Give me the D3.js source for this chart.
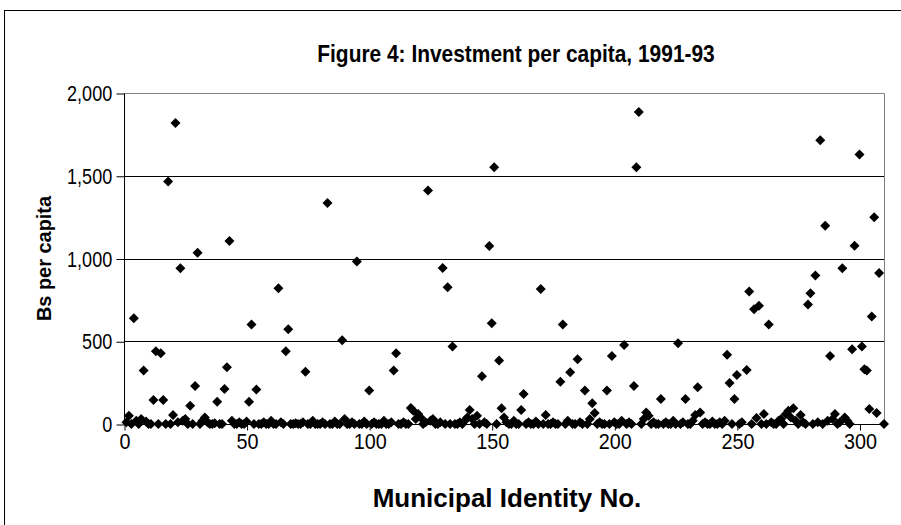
<!DOCTYPE html>
<html>
<head>
<meta charset="utf-8">
<style>
  body { margin: 0; background: #fff; }
  svg { display: block; font-family: 'Liberation Sans', Arial, sans-serif; }
  .title { font-size: 23px; font-weight: bold; }
  .axisTitle { font-weight: bold; }
  .tick text { font-size: 22px; font-family: 'Liberation Sans', Arial, sans-serif; fill: #000; }
</style>
</head>
<body>
<div id="chart"></div>
<script src="https://d3js.org/d3.v7.min.js"></script>
<script>
// investment per capita (Bs) for municipalities 1..310, null = no point
const perCapita = [
  10, 50, 0, 639, 20, 0, 30, 323, 15, 0,
  0, 145, 440, 0, 427, 145, 0, 1466, 0, 54,
  1818, 10, 941, 20, 30, 0, 111, 0, 230, 1034,
  0, 20, 40, 10, 0, 0, 5, 135, 0, 0,
  212, 343, 1105, 20, 0, 0, 10, 0, 0, 15,
  135, 601, 0, 208, 0, 0, 10, 0, 0, 20,
  0, 0, 820, 10, 0, 440, 573, 0, 0, 5,
  0, 0, 10, 315, 0, 0, 20, 0, 0, 0,
  10, 0, 1335, 0, 0, 15, 0, 0, 506, 30,
  0, 0, 10, 0, 982, 0, 0, 15, 0, 202,
  0, 10, 0, 0, 0, 20, 0, 0, 10, 323,
  427, 0, 0, 10, 0, 0, 97, 80, 30, 60,
  40, 0, 10, 1411, 20, 30, 0, 0, 10, 943,
  0, 827, 0, 468, 0, 0, 10, 0, 20, 40,
  85, 30, 0, 50, 0, 288, 10, 0, 1075, 609,
  1552, 0, 383, 95, 40, 10, 0, 0, 20, 0,
  0, 85, 181, 0, 10, 0, 0, 15, 0, 816,
  0, 54, 0, 0, 10, 0, 0, 256, 601, 0,
  20, 312, 0, 0, 391, 10, 0, 202, 0, 30,
  125, 67, 0, 10, 0, 0, 202, 0, 411, 10,
  0, 0, 20, 478, 0, 10, 0, 230, 1552, 1885,
  0, 30, 70, 50, 0, 10, 0, 0, 151, 0,
  10, 0, 0, 20, 0, 488, 0, 10, 151, 0,
  0, 20, 54, 222, 70, 0, 10, 0, 0, 15,
  0, 0, 10, 0, 20, 419, 248, 0, 151, 296,
  0, 10, null, 327, 800, 0, 694, 36, 714, 0,
  60, 0, 601, 10, 0, 0, 20, 30, 0, 60,
  80, 40, 95, 20, 0, 54, 10, 0, 722, 790,
  0, 897, 10, 1714, 0, 1198, 20, 411, 30, 60,
  0, 10, 941, 40, 20, 0, 452, 1077, null, 1629,
  468, 331, 323, 91, 649, 1250, 67, 913, null, 0
];
const municipalIds = perCapita.map((v, i) => i + 1);
const yTicks = [0, 500, 1000, 1500, 2000];
const xTicks = [0, 50, 100, 150, 200, 250, 300];

const W = 901, H = 525;
const plot = {left: 124, right: 884, top: 93, bottom: 424};

const svg = d3.select("#chart").append("svg")
  .attr("width", W).attr("height", H);

// chart border (cut off at right and bottom like the original)
svg.append("rect")
  .attr("x", 4.5).attr("y", 10.5)
  .attr("width", 940).attr("height", 560)
  .attr("fill", "#fff").attr("stroke", "#000");

const x = d3.scaleLinear().domain([0, 310]).range([plot.left, plot.right]);
const y = d3.scaleLinear().domain([0, 2000]).range([plot.bottom, plot.top]);

// gridlines
svg.append("g")
  .selectAll("line")
  .data(yTicks.filter(d => d > 0 && d < 2000))
  .join("line")
    .attr("x1", plot.left).attr("x2", plot.right)
    .attr("y1", d => Math.round(y(d)) + 0.5).attr("y2", d => Math.round(y(d)) + 0.5)
    .attr("stroke", "#000");

// plot area border (top + right)
svg.append("path")
  .attr("d", `M${plot.left},${Math.round(y(2000)) + 0.5}H${plot.right + 0.5}V${plot.bottom}`)
  .attr("fill", "none").attr("stroke", "#808080");

// y axis
const yAxis = svg.append("g")
  .attr("transform", `translate(${plot.left + 0.5},0.5)`)
  .call(d3.axisLeft(y).tickValues(yTicks).tickFormat(d3.format(",")).tickSize(8).tickPadding(7));
yAxis.select(".domain").attr("stroke", "#000").attr("d", `M0,${y(2000)}V${y(0)}`);
yAxis.selectAll(".tick line").attr("stroke", "#000");
yAxis.selectAll(".tick text").attr("transform", "scale(0.82,1)");

// x axis
const xAxis = svg.append("g")
  .attr("transform", `translate(0.5,${Math.round(y(0)) + 0.5})`)
  .call(d3.axisBottom(x).tickValues(xTicks).tickFormat(d3.format("d")).tickSize(6).tickPadding(3));
xAxis.select(".domain").attr("stroke", "#000").attr("d", `M${plot.left},0H${plot.right}`);
xAxis.selectAll(".tick line").attr("stroke", "#000");
xAxis.selectAll(".tick text").attr("transform", "scale(0.9,1)");

// points
const pts = municipalIds.map((id, i) => ({id: id, v: perCapita[i]})).filter(d => d.v !== null);
svg.append("g")
  .selectAll("path")
  .data(pts)
  .join("path")
    .attr("transform", d => `translate(${x(d.id)},${y(d.v)})`)
    .attr("d", "M0,-5L5,0L0,5L-5,0Z")
    .attr("fill", "#000");

// titles
svg.append("text")
  .attr("class", "title")
  .attr("transform", "translate(516,62) scale(0.91,1)")
  .attr("text-anchor", "middle")
  .text("Figure 4: Investment per capita, 1991-93");

svg.append("text")
  .attr("class", "axisTitle")
  .attr("font-size", 21)
  .attr("transform", `translate(51,${(plot.top + plot.bottom) / 2}) rotate(-90) scale(0.95,1)`)
  .attr("text-anchor", "middle")
  .text("Bs per capita");

svg.append("text")
  .attr("class", "axisTitle")
  .attr("font-size", 26)
  .attr("transform", `translate(${(plot.left + plot.right) / 2 + 3},507)`)
  .attr("text-anchor", "middle")
  .text("Municipal Identity No.");
</script>
</body>
</html>
